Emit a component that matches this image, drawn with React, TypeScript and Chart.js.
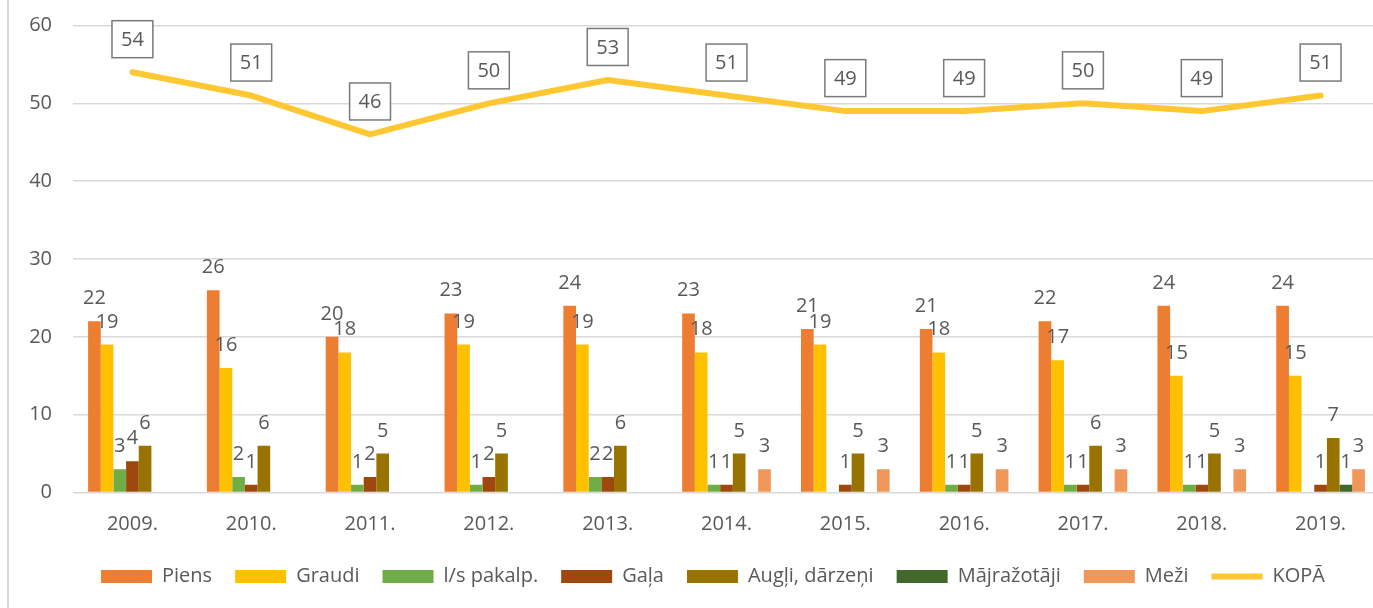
import React, { useEffect, useRef } from "react";
import { Chart, registerables } from "chart.js";

Chart.register(...registerables);

const years = ["2009.", "2010.", "2011.", "2012.", "2013.", "2014.", "2015.", "2016.", "2017.", "2018.", "2019."];
const piens = [22, 26, 20, 23, 24, 23, 21, 21, 22, 24, 24];
const graudi = [19, 16, 18, 19, 19, 18, 19, 18, 17, 15, 15];
const lsPakalp = [3, 2, 1, 1, 2, 1, null, 1, 1, 1, null];
const gala = [4, 1, 2, 2, 2, 1, 1, 1, 1, 1, 1];
const augli = [6, 6, 5, 5, 6, 5, 5, 5, 6, 5, 7];
const majrazotaji = [null, null, null, null, null, null, null, null, null, null, 1];
const mezi = [null, null, null, null, null, 3, 3, 3, 3, 3, 3];
const kopa = [54, 51, 46, 50, 53, 51, 49, 49, 50, 49, 51];

const FONT = "'Open Sans', 'DejaVu Sans', sans-serif";
const TEXT = "#595959";
const LEGEND_SHIFT = 23;

const valueLabels = {
  id: "valueLabels",
  afterLayout(chart: any) {
    const lg = chart.legend;
    if (lg) {
      lg.left += LEGEND_SHIFT;
      lg.right += LEGEND_SHIFT;
    }
  },
  afterDatasetsDraw(chart: any) {
    const ctx = chart.ctx;
    ctx.save();
    ctx.font = `20px ${FONT}`;
    ctx.fillStyle = TEXT;
    chart.data.datasets.forEach((ds: any, i: number) => {
      const meta = chart.getDatasetMeta(i);
      if (meta.hidden) return;
      meta.data.forEach((el: any, j: number) => {
        const v = ds.data[j];
        if (v == null) return;
        const txt = String(v);
        if (ds.type === "line") {
          const w = ctx.measureText(txt).width + 18;
          const h = 37;
          const cx = el.x;
          const cy = el.y - 33;
          ctx.fillStyle = "#ffffff";
          ctx.fillRect(cx - w / 2, cy - h / 2, w, h);
          ctx.strokeStyle = "#7a7a7a";
          ctx.lineWidth = 1.5;
          ctx.strokeRect(cx - w / 2, cy - h / 2, w, h);
          ctx.fillStyle = TEXT;
          ctx.textAlign = "center";
          ctx.textBaseline = "middle";
          ctx.fillText(txt, cx, cy + 1);
        } else {
          ctx.fillStyle = TEXT;
          ctx.textAlign = "center";
          ctx.textBaseline = "alphabetic";
          ctx.fillText(txt, el.x, el.y - 17);
        }
      });
    });
    ctx.restore();
  },
};

export default function App() {
  const ref = useRef<HTMLCanvasElement | null>(null);

  useEffect(() => {
    if (!ref.current) return;
    const barDs = (label: string, data: any[], color: string) => ({
      type: "bar" as const,
      label,
      data,
      backgroundColor: color,
      borderWidth: 0,
      order: 1,
      categoryPercentage: 0.746,
      barPercentage: 1,
    });
    const chart = new Chart(ref.current, {
      type: "bar",
      data: {
        labels: years,
        datasets: [
          barDs("Piens", piens, "#ED7D31"),
          barDs("Graudi", graudi, "#FFC000"),
          barDs("l/s pakalp.", lsPakalp, "#70AD47"),
          barDs("Gaļa", gala, "#9E480E"),
          barDs("Augļi, dārzeņi", augli, "#997300"),
          barDs("Mājražotāji", majrazotaji, "#43682B"),
          barDs("Meži", mezi, "#F1975A"),
          {
            type: "line" as const,
            label: "KOPĀ",
            data: kopa,
            borderColor: "#FFC832",
            backgroundColor: "#FFC832",
            borderWidth: 6,
            borderCapStyle: "round",
            borderJoinStyle: "round",
            pointRadius: 0,
            tension: 0,
            order: 0,
          } as any,
        ],
      },
      options: {
        responsive: false,
        animation: false,
        devicePixelRatio: 1,
        layout: { padding: { top: 25.5, right: 10, bottom: 11.5, left: 0 } },
        font: { family: FONT },
        plugins: {
          tooltip: { enabled: false },
          legend: {
            position: "bottom",
            labels: {
              color: TEXT,
              font: { family: FONT, size: 20 },
              usePointStyle: true,
              pointStyleWidth: 51,
              boxHeight: 13,
              padding: 23,
              sort: (a: any, b: any) => a.datasetIndex - b.datasetIndex,
              generateLabels(chart: any) {
                const items = Chart.defaults.plugins.legend.labels.generateLabels(chart);
                return items.map((it: any) => ({
                  ...it,
                  pointStyle: it.datasetIndex === 7 ? "line" : "rect",
                }));
              },
            },
          },
        },
        scales: {
          x: {
            grid: { display: false, drawTicks: false },
            border: { display: false },
            ticks: { color: TEXT, font: { family: FONT, size: 20 }, padding: 20 },
            afterFit(scale: any) {
              scale.height = 51;
            },
          },
          y: {
            min: 0,
            max: 60,
            ticks: { stepSize: 10, color: TEXT, font: { family: FONT, size: 20 }, padding: 21 },
            grid: { color: "#d9d9d9", lineWidth: 1.5, drawTicks: false },
            border: { display: false },
            afterFit(scale: any) {
              scale.width = 73;
              scale.paddingTop = 0;
              scale.paddingBottom = 0;
            },
          },
        },
      } as any,
      plugins: [valueLabels],
    });
    return () => chart.destroy();
  }, []);

  return (
    <div style={{ position: "fixed", left: 0, top: 0, width: 1373, height: 608, overflow: "hidden", background: "#fff" }}>
      <div style={{ position: "absolute", left: 7, top: 0, width: 2, height: 608, background: "#d9d9d9" }} />
      <canvas ref={ref} width={1390} height={608} style={{ position: "absolute", left: 0, top: 0 }} />
    </div>
  );
}
